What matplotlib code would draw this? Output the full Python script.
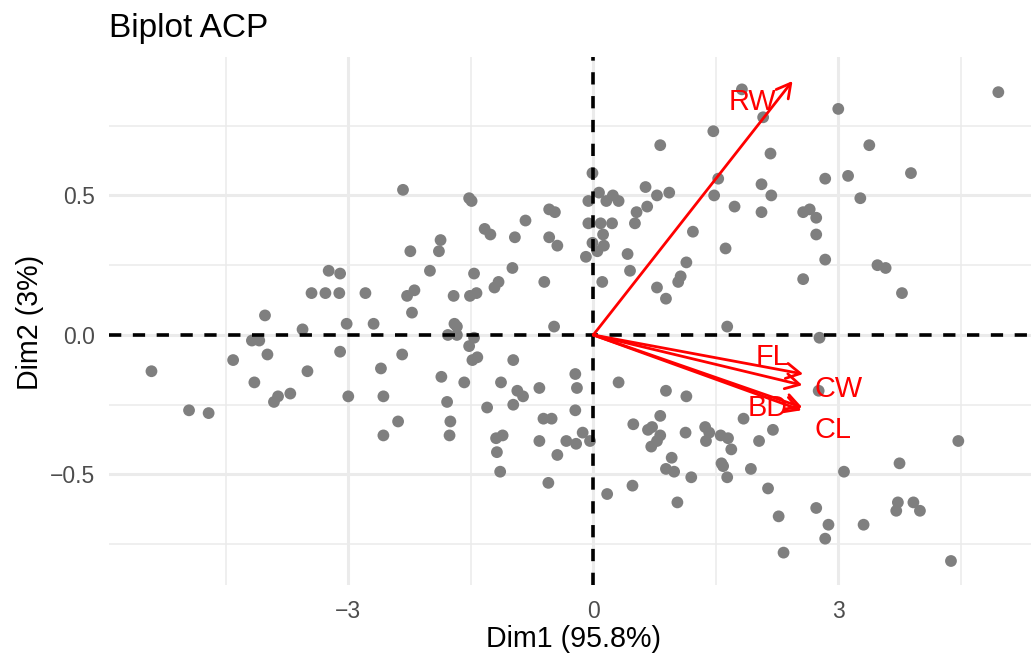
import matplotlib
matplotlib.use("Agg")
import matplotlib.pyplot as plt

plt.rcParams['font.family'] = ['Liberation Sans', 'DejaVu Sans']

# individuals (PCA coordinates)
dim1 = [-5.41, -4.95, -4.71, -4.41, -4.18, -4.09, -3.99, -4.15, -3.50, -3.86,
        -3.91, -3.71, -3.10, -3.00, -3.56, -3.24, -3.10, -3.45, -3.28, -3.11,
        -4.02, -3.02,
        -2.33, -1.52, -1.49, -1.33, -1.26, -0.83, -0.54, -0.47, -0.96, -0.54,
        -0.44, -0.01, -0.06, -0.06, -0.01, -0.09, -1.87, -2.24, -1.89, -2.00,
        -1.46, -0.99, -2.79, -2.28, -2.19, -1.71, -1.51, -1.43, -1.21, -1.16,
        -0.60, -2.22, -2.69, -1.70, -1.67, -0.48,
        -1.78, -1.67, -1.46, -1.52, -2.34, -2.60, -1.48, -1.42, -0.98, -0.22,
        -1.86, -1.58, -1.13, -0.20, -2.57, -0.93, -0.86, -0.66, -1.79, -1.30,
        -0.98, -0.22, -2.39, -1.75, -0.61, -0.51, -0.13, -2.57, -1.76, -1.19,
        -1.11, -0.66, -0.33, -0.21, -0.04, -1.18, -0.44, -1.14, -0.55,
        1.82, 2.08, 1.47, 0.82, 2.17, 1.53, 2.84, 2.06, 0.07, 0.64,
        0.16, 0.24, 0.31, 0.78, 0.93, 1.48, 2.18, 0.66, 1.73, 2.06,
        0.53, 0.51, 0.09, 0.23, 2.57, 2.65, 2.73, 2.73, 2.84, 0.12,
        1.22, 0.05, 0.13, 0.42, 1.62, 0.45, 1.14, 1.07, 1.04, 0.11,
        2.57, 0.78, 0.89, 1.64, 2.77,
        4.96, 3.00, 3.38, 3.12, 3.89, 3.27, 3.48, 3.58, 3.78,
        0.31, 0.89, 1.14, 2.76, 0.82, 0.49, 1.84, 2.20, 0.67, 0.72,
        1.13, 1.37, 1.42, 1.56, 1.65, 1.69, 0.82, 0.78, 0.71, 1.38,
        2.03, 0.96, 0.89, 0.99, 1.57, 1.59, 1.64, 1.20, 1.93, 0.48,
        0.17, 1.03, 2.14, 2.27, 2.73, 2.88, 2.84, 2.33,
        4.47, 3.75, 3.07, 3.73, 3.71, 3.92, 4.00, 3.31, 4.38]

dim2 = [-0.13, -0.27, -0.28, -0.09, -0.02, -0.02, -0.07, -0.17, -0.13, -0.22,
        -0.24, -0.21, -0.06, -0.22, 0.02, 0.23, 0.22, 0.15, 0.15, 0.15,
        0.07, 0.04,
        0.52, 0.49, 0.48, 0.38, 0.36, 0.41, 0.45, 0.44, 0.35, 0.35,
        0.32, 0.58, 0.48, 0.40, 0.33, 0.28, 0.34, 0.30, 0.30, 0.23,
        0.22, 0.24, 0.15, 0.14, 0.16, 0.14, 0.14, 0.15, 0.17, 0.19,
        0.19, 0.08, 0.04, 0.04, 0.03, 0.03,
        0.00, 0.00, -0.01, -0.04, -0.07, -0.12, -0.09, -0.08, -0.09, -0.14,
        -0.15, -0.17, -0.17, -0.19, -0.22, -0.20, -0.22, -0.19, -0.24, -0.26,
        -0.25, -0.27, -0.31, -0.31, -0.30, -0.30, -0.35, -0.36, -0.36, -0.37,
        -0.36, -0.38, -0.38, -0.39, -0.38, -0.42, -0.43, -0.49, -0.53,
        0.88, 0.78, 0.73, 0.68, 0.65, 0.56, 0.56, 0.54, 0.51, 0.53,
        0.48, 0.50, 0.48, 0.50, 0.51, 0.50, 0.50, 0.46, 0.46, 0.44,
        0.44, 0.40, 0.40, 0.40, 0.44, 0.45, 0.42, 0.36, 0.27, 0.36,
        0.37, 0.30, 0.32, 0.29, 0.31, 0.23, 0.26, 0.21, 0.19, 0.19,
        0.20, 0.17, 0.13, 0.03, -0.01,
        0.87, 0.81, 0.68, 0.57, 0.58, 0.49, 0.25, 0.24, 0.15,
        -0.17, -0.20, -0.22, -0.20, -0.29, -0.32, -0.30, -0.34, -0.34, -0.33,
        -0.35, -0.33, -0.35, -0.36, -0.37, -0.41, -0.36, -0.38, -0.40, -0.38,
        -0.38, -0.44, -0.48, -0.49, -0.46, -0.47, -0.51, -0.51, -0.48, -0.54,
        -0.57, -0.60, -0.55, -0.65, -0.62, -0.68, -0.73, -0.78,
        -0.38, -0.46, -0.49, -0.60, -0.63, -0.60, -0.63, -0.68, -0.81]

# variables (arrows)
var_names = ['FL', 'RW', 'CL', 'CW', 'BD']
var_dim1 = [2.57, 2.44, 2.55, 2.56, 2.56]
var_dim2 = [-0.14, 0.91, -0.27, -0.18, -0.26]

# where the labels sit (repelled like in the original)
label_pos = {'FL': (2.19, -0.08), 'RW': (1.95, 0.835), 'CL': (2.94, -0.34),
             'CW': (3.00, -0.195), 'BD': (2.13, -0.26)}

fig = plt.figure(figsize=(10.31, 6.55), dpi=100)
ax = fig.add_axes([109/1031, 1 - 585/655, 922/1031, 528/655])

ax.set_xlim(-5.93, 5.36)
ax.set_ylim(-0.896, 0.996)

# grid (theme_minimal style)
ax.set_xticks([-3, 0, 3])
ax.set_yticks([-0.5, 0.0, 0.5])
ax.set_xticklabels(['\u22123', '0', '3'])
ax.set_yticklabels(['\u22120.5', '0.0', '0.5'])
ax.set_xticks([-4.5, -1.5, 1.5, 4.5], minor=True)
ax.set_yticks([-0.75, -0.25, 0.25, 0.75], minor=True)
ax.grid(True, which='major', color='#EBEBEB', lw=2.2, zorder=0)
ax.grid(True, which='minor', color='#EBEBEB', lw=1.1, zorder=0)
ax.set_axisbelow(True)
for s in ax.spines.values():
    s.set_visible(False)
ax.tick_params(which='both', length=0)
ax.tick_params(axis='x', pad=11, labelsize=16.5, labelcolor='#4D4D4D')
ax.tick_params(axis='y', pad=10, labelsize=16.5, labelcolor='#4D4D4D')

ax.scatter(dim1, dim2, s=72, color='#7F7F7F', edgecolors='none', zorder=2)

ax.axhline(0, color='black', lw=2.6, dashes=(3.4, 3.2), zorder=3)
ax.axvline(0, color='black', lw=2.6, dashes=(3.4, 3.2), zorder=3)

for name, x, y in zip(var_names, var_dim1, var_dim2):
    ax.annotate('', xy=(x, y), xytext=(0, 0),
                arrowprops=dict(arrowstyle='->,head_length=1.0,head_width=0.55',
                                color='red', lw=2.0, shrinkA=0, shrinkB=0,
                                mutation_scale=10),
                zorder=4)
    lx, ly = label_pos[name]
    ax.text(lx, ly, name, color='red', fontsize=20.8, ha='center', va='center', zorder=5)

fig.text(109/1031, 1 - 37/655, 'Biplot ACP', fontsize=24, va='baseline', ha='left')
fig.text(573/1031, 1 - 647/655, 'Dim1 (95.8%)', fontsize=20.6, va='baseline', ha='center')
fig.text(30/1031, 1 - 322/655, 'Dim2 (3%)', fontsize=20.6, va='center', ha='center',
         rotation=90)

fig.savefig('out.png', dpi=100)
